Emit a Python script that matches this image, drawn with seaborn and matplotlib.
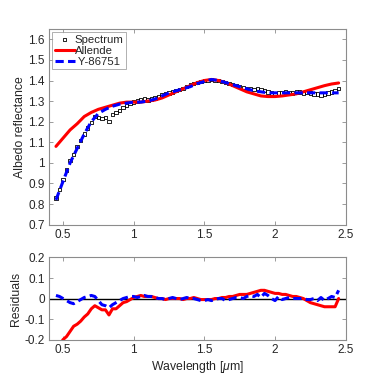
import matplotlib
matplotlib.use("Agg")
import matplotlib.pyplot as plt
import seaborn as sns
import pandas as pd
import numpy as np

# ---- data ----
wavelength = [0.45, 0.475, 0.5, 0.525, 0.55, 0.575, 0.6, 0.625, 0.65, 0.675,
              0.7, 0.725, 0.75, 0.775, 0.8, 0.825, 0.85, 0.875, 0.9, 0.925,
              0.95, 0.975, 1.0, 1.025, 1.05, 1.075, 1.1, 1.125, 1.15, 1.175,
              1.2, 1.225, 1.25, 1.275, 1.3, 1.325, 1.35, 1.375, 1.4, 1.425,
              1.45, 1.475, 1.5, 1.525, 1.55, 1.575, 1.6, 1.625, 1.65, 1.675,
              1.7, 1.725, 1.75, 1.775, 1.8, 1.825, 1.85, 1.875, 1.9, 1.925,
              1.95, 1.975, 2.0, 2.025, 2.05, 2.075, 2.1, 2.125, 2.15, 2.175,
              2.2, 2.225, 2.25, 2.275, 2.3, 2.325, 2.35, 2.375, 2.4, 2.425,
              2.45]

spectrum = [0.83, 0.87, 0.92, 0.965, 1.01, 1.04, 1.08, 1.11, 1.14, 1.17,
            1.195, 1.225, 1.22, 1.215, 1.22, 1.20, 1.235, 1.245, 1.255, 1.27,
            1.28, 1.29, 1.295, 1.30, 1.305, 1.31, 1.305, 1.31, 1.315, 1.32,
            1.33, 1.335, 1.34, 1.345, 1.35, 1.355, 1.36, 1.37, 1.38, 1.385,
            1.39, 1.395, 1.40, 1.40, 1.405, 1.40, 1.40, 1.395, 1.39, 1.385,
            1.38, 1.375, 1.37, 1.365, 1.36, 1.36, 1.355, 1.36, 1.355, 1.35,
            1.345, 1.34, 1.335, 1.34, 1.34, 1.345, 1.34, 1.34, 1.345, 1.345,
            1.34, 1.345, 1.34, 1.335, 1.335, 1.33, 1.335, 1.34, 1.345, 1.35,
            1.36]

model_wl = [0.45, 0.5, 0.55, 0.6, 0.65, 0.7, 0.75, 0.8, 0.85, 0.9,
            0.95, 1.0, 1.05, 1.1, 1.15, 1.2, 1.25, 1.3, 1.35, 1.4,
            1.45, 1.5, 1.55, 1.6, 1.65, 1.7, 1.75, 1.8, 1.85, 1.9,
            1.95, 2.0, 2.05, 2.1, 2.15, 2.2, 2.25, 2.3, 2.35, 2.4, 2.45]

allende = [1.08, 1.12, 1.16, 1.19, 1.225, 1.245, 1.26, 1.27, 1.28, 1.29,
           1.295, 1.295, 1.295, 1.30, 1.305, 1.315, 1.33, 1.345, 1.36, 1.375,
           1.39, 1.40, 1.405, 1.40, 1.39, 1.375, 1.36, 1.345, 1.335, 1.325,
           1.322, 1.322, 1.325, 1.33, 1.335, 1.345, 1.355, 1.365, 1.375, 1.383, 1.388]

y86751 = [0.82, 0.91, 1.00, 1.07, 1.14, 1.20, 1.24, 1.26, 1.275, 1.285,
          1.29, 1.295, 1.295, 1.30, 1.31, 1.325, 1.34, 1.35, 1.36, 1.37,
          1.385, 1.395, 1.405, 1.40, 1.39, 1.38, 1.37, 1.36, 1.35, 1.345,
          1.34, 1.34, 1.34, 1.34, 1.34, 1.34, 1.34, 1.34, 1.34, 1.34, 1.34]

resid_allende = [-0.25, -0.23, -0.20, -0.185, -0.16, -0.135, -0.125, -0.11, -0.09, -0.075,
                 -0.05, -0.035, -0.045, -0.055, -0.055, -0.08, -0.05, -0.05, -0.035, -0.02,
                 -0.015, -0.005, 0.005, 0.01, 0.015, 0.01, 0.01, 0.01, 0.005, 0.0,
                 0.0, -0.005, 0.0, 0.0, 0.0, 0.0, -0.005, 0.0, 0.0, 0.005,
                 0.0, -0.005, -0.005, -0.005, -0.005, 0.0, 0.0, 0.005, 0.005, 0.01,
                 0.01, 0.015, 0.02, 0.02, 0.02, 0.025, 0.03, 0.035, 0.04, 0.04,
                 0.035, 0.03, 0.025, 0.025, 0.02, 0.02, 0.015, 0.01, 0.01, 0.005,
                 0.0, -0.01, -0.02, -0.025, -0.03, -0.035, -0.04, -0.04, -0.04, -0.04,
                 0.0]

resid_y86751 = [0.015, 0.01, 0.0, -0.01, -0.02, -0.025, -0.015, -0.005, 0.005, 0.01,
                0.015, 0.01, -0.01, -0.03, -0.035, -0.045, -0.03, -0.02, -0.01, 0.0,
                0.005, 0.01, 0.01, 0.005, 0.01, 0.015, 0.01, 0.01, 0.005, 0.0,
                0.0, -0.005, 0.0, 0.005, 0.0, -0.005, 0.0, 0.005, 0.0, 0.0,
                -0.005, -0.01, -0.01, -0.005, -0.01, -0.005, 0.0, 0.0, -0.01, -0.005,
                0.0, 0.005, 0.005, 0.0, 0.01, 0.015, 0.01, 0.02, 0.005, 0.025,
                0.015, 0.0, -0.01, 0.01, -0.005, 0.0, 0.005, 0.0, 0.0, 0.0,
                0.0, -0.005, -0.005, 0.0, -0.01, 0.005, -0.01, 0.0, 0.01, 0.005,
                0.04]

yticks_top = [0.7, 0.8, 0.9, 1.0, 1.1, 1.2, 1.3, 1.4, 1.5, 1.6]
ytick_labels_top = ["0.7", "0.8", "0.9", "1", "1.1", "1.2", "1.3", "1.4", "1.5", "1.6"]
yticks_bot = [-0.2, -0.1, 0.0, 0.1, 0.2]
ytick_labels_bot = ["-0.2", "-0.1", "0", "0.1", "0.2"]
xticks = [0.5, 1.0, 1.5, 2.0, 2.5]
xtick_labels = ["0.5", "1", "1.5", "2", "2.5"]

# ---- style ----
sns.set_style("ticks")
plt.rcParams['font.family'] = ['Liberation Sans', 'DejaVu Sans']
plt.rcParams['mathtext.fontset'] = 'custom'
plt.rcParams['mathtext.it'] = 'Liberation Sans:italic'
plt.rcParams['mathtext.rm'] = 'Liberation Sans'
FS = 8.5
TXT = '#262626'
SP = '#8c8c8c'
LW = 2.2
DASH = (0, (2.7, 1.4))

fig = plt.figure(figsize=(3.82, 3.82), dpi=100)
ax1 = fig.add_axes([0.128, 0.412, 0.777, 0.512])
ax2 = fig.add_axes([0.128, 0.111, 0.777, 0.215])

df_spec = pd.DataFrame({"wl": wavelength, "refl": spectrum})
df_mod = pd.DataFrame({"wl": model_wl, "Allende": allende, "Y": y86751})
df_res = pd.DataFrame({"wl": wavelength, "ra": resid_allende, "ry": resid_y86751})

sns.scatterplot(data=df_spec, x="wl", y="refl", ax=ax1, marker='s', s=6,
                facecolor='none', edgecolor='black', linewidth=0.6,
                label="Spectrum", zorder=2)
sns.lineplot(data=df_mod, x="wl", y="Allende", ax=ax1, color='#ff0000',
             linewidth=LW, label="Allende", zorder=3)
sns.lineplot(data=df_mod, x="wl", y="Y", ax=ax1, color='#0000ff',
             linewidth=LW, label=" Y-86751", zorder=4)
ax1.lines[-1].set_linestyle(DASH)

ax2.axhline(0, color='black', linewidth=1.0, zorder=1)
sns.lineplot(data=df_res, x="wl", y="ra", ax=ax2, color='#ff0000',
             linewidth=LW, zorder=3)
sns.lineplot(data=df_res, x="wl", y="ry", ax=ax2, color='#0000ff',
             linewidth=LW, zorder=4)
ax2.lines[-1].set_linestyle(DASH)

for ax in (ax1, ax2):
    ax.set_xlim(0.4, 2.5)
    ax.set_xticks(xticks)
    ax.set_xticklabels(xtick_labels)
    ax.tick_params(direction='in', length=3, width=0.6, colors=SP,
                   labelcolor=TXT, labelsize=FS, top=True, right=True, pad=3)
    for s in ax.spines.values():
        s.set_visible(True)
        s.set_color(SP)
        s.set_linewidth(0.8)

ax1.set_ylim(0.7, 1.65)
ax1.set_yticks(yticks_top)
ax1.set_yticklabels(ytick_labels_top)
ax1.set_xlabel("")
ax1.set_ylabel("Albedo reflectance", fontsize=FS + 0.3, color=TXT, labelpad=1.5)

ax2.set_ylim(-0.2, 0.2)
ax2.set_yticks(yticks_bot)
ax2.set_yticklabels(ytick_labels_bot)
ax2.set_ylabel("Residuals", fontsize=FS + 0.3, color=TXT, labelpad=1.5)
ax2.set_xlabel(r"Wavelength [$\mu$m]", fontsize=FS + 0.3, color=TXT, labelpad=2)

leg = ax1.legend(loc='upper left', fontsize=8.2, frameon=True, fancybox=False,
                 borderpad=0.2, labelspacing=0.1, handlelength=1.75,
                 handletextpad=0.0, borderaxespad=0.3,
                 bbox_to_anchor=(0.0, 1.0))
leg.get_frame().set_edgecolor(SP)
leg.get_frame().set_linewidth(0.6)
for t in leg.get_texts():
    t.set_color(TXT)

fig.savefig("out.png", dpi=100)
